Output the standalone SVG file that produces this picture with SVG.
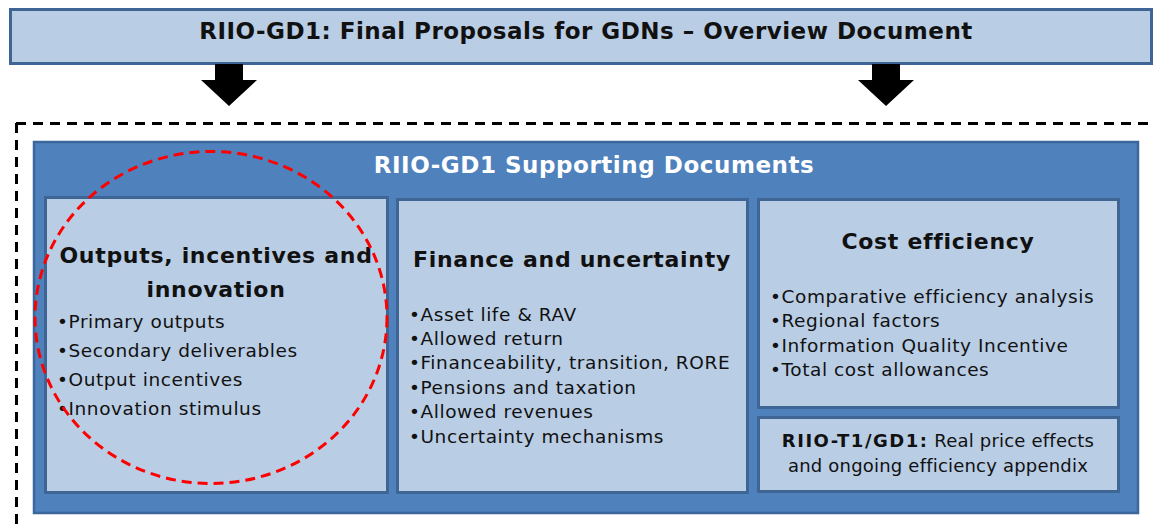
<svg xmlns="http://www.w3.org/2000/svg" width="1153" height="527" viewBox="0 0 1153 527">
  <style>
    .light { fill: #b9cde5; stroke: #3f6594; stroke-width: 3; }
    .panel { fill: #4f81bd; stroke: #3b679c; stroke-width: 2.5; }
    .t { font-family: "DejaVu Sans", Verdana, sans-serif; fill: #111; }
    .h { font-weight: bold; text-anchor: middle; font-size: 22px; letter-spacing: 0.7px; }
    .b { font-size: 18.5px; letter-spacing: 0.58px; }
  </style>
  <defs>
    <path id="arrow" d="M-14,0 H14 V16 H28 L0,42 L-28,16 H-14 Z" fill="#000"/>
  </defs>

  <!-- overview document banner -->
  <g id="overview">
    <rect class="light" x="10.5" y="9.5" width="1141" height="54"/>
    <text class="t h" x="586" y="39" style="font-size:23px;letter-spacing:0.5px">RIIO-GD1: Final Proposals for GDNs – Overview Document</text>
  </g>

  <!-- connectors: banner down to supporting documents -->
  <g id="connectors">
    <use href="#arrow" x="229" y="64"/>
    <use href="#arrow" x="886" y="64"/>
  </g>

  <!-- dashed frame around the supporting documents -->
  <g id="frame">
    <path d="M16,123.5 H1153 M16.5,123 V527" fill="none" stroke="#000" stroke-width="3" stroke-dasharray="10 7"/>
  </g>

  <g id="supporting">
    <rect class="panel" x="34" y="142" width="1104" height="371"/>
    <text class="t h" x="594" y="173" style="font-size:23px;letter-spacing:0.55px;fill:#fff">RIIO-GD1 Supporting Documents</text>
  </g>

  <g id="outputs">
    <rect class="light" x="45.5" y="197.5" width="342" height="295"/>
    <text class="t h" x="216" y="263">Outputs, incentives and</text>
    <text class="t h" x="216" y="297">innovation</text>
    <text class="t b" x="57" y="328">•Primary outputs</text>
    <text class="t b" x="57" y="357">•Secondary deliverables</text>
    <text class="t b" x="57" y="386">•Output incentives</text>
    <text class="t b" x="57" y="415">•Innovation stimulus</text>
  </g>

  <g id="finance">
    <rect class="light" x="397.5" y="199.5" width="350" height="293"/>
    <text class="t h" x="572" y="267">Finance and uncertainty</text>
    <text class="t b" x="409" y="321">•Asset life &amp; RAV</text>
    <text class="t b" x="409" y="345">•Allowed return</text>
    <text class="t b" x="409" y="369">•Financeability, transition, RORE</text>
    <text class="t b" x="409" y="394">•Pensions and taxation</text>
    <text class="t b" x="409" y="418">•Allowed revenues</text>
    <text class="t b" x="409" y="443">•Uncertainty mechanisms</text>
  </g>

  <g id="cost">
    <rect class="light" x="758.5" y="199.5" width="360" height="208"/>
    <text class="t h" x="938" y="249">Cost efficiency</text>
    <text class="t b" x="770" y="303">•Comparative efficiency analysis</text>
    <text class="t b" x="770" y="327">•Regional factors</text>
    <text class="t b" x="770" y="352">•Information Quality Incentive</text>
    <text class="t b" x="770" y="376">•Total cost allowances</text>
  </g>

  <g id="appendix">
    <rect class="light" x="758.5" y="417.5" width="360" height="74"/>
    <text class="t" x="938" y="447" font-size="18" letter-spacing="0.2" text-anchor="middle"><tspan font-weight="bold" letter-spacing="1.5">RIIO-T1/GD1:</tspan> Real price effects</text>
    <text class="t" x="938" y="472" font-size="18" letter-spacing="0.2" text-anchor="middle">and ongoing efficiency appendix</text>
  </g>

  <!-- highlight ring -->
  <g id="highlight">
    <ellipse cx="211" cy="317.5" rx="176" ry="166" fill="none" stroke="#ff0000" stroke-width="3" stroke-dasharray="10 6"/>
  </g>
</svg>
